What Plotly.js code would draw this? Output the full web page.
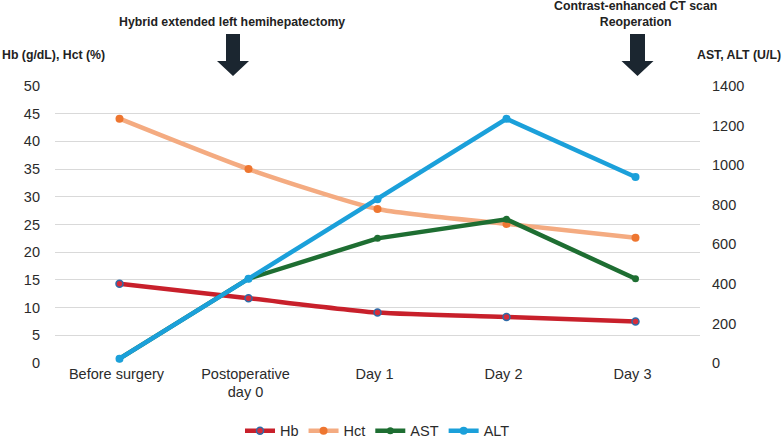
<!DOCTYPE html>
<html>
<head>
<meta charset="utf-8">
<script src="https://cdn.plot.ly/plotly-3.0.1.min.js"></script>
<style>html,body{margin:0;padding:0;background:#fff;}#chart{width:783px;height:440px;}</style>
</head>
<body>
<div id="chart"></div>
<script>
// ---- data ----
const categories = ["Before surgery", "Postoperative<br>day 0", "Day 1", "Day 2", "Day 3"];
const hb  = [14.3, 11.7, 9.1, 8.3, 7.5];
const hct = [44.1, 35.0, 27.8, 25.1, 22.6];
const ast = [22, 426, 630, 726, 426];
const alt = [22, 426, 827, 1234, 940];

// ---- layout helpers ----
const W = 783, H = 440;
const M = {l: 55, r: 83, t: 86, b: 77, autoexpand: false};
const pw = W - M.l - M.r, ph = H - M.t - M.b;
const px = x => (x - M.l) / pw;
const py = y => (H - M.b - y) / ph;

function arrowPath(cx, shaftHalf, headHalf, top, headBase, tip) {
  return "M" + px(cx - shaftHalf) + "," + py(top) +
         " L" + px(cx + shaftHalf) + "," + py(top) +
         " L" + px(cx + shaftHalf) + "," + py(headBase) +
         " L" + px(cx + headHalf) + "," + py(headBase) +
         " L" + px(cx) + "," + py(tip) +
         " L" + px(cx - headHalf) + "," + py(headBase) +
         " L" + px(cx - shaftHalf) + "," + py(headBase) + " Z";
}

const font = "Liberation Sans, Arial, sans-serif";
const lw = 4.5;

const traces = [
  {x: categories, y: hb, name: "Hb", type: "scatter", mode: "lines+markers",
   line: {color: "#C8202B", width: lw, shape: "spline", smoothing: 0.6},
   marker: {color: "#D62D3A", size: 7, line: {color: "#2E6BA8", width: 1.5}}},
  {x: categories, y: hct, name: "Hct", type: "scatter", mode: "lines+markers",
   line: {color: "#F4AB81", width: lw, shape: "spline", smoothing: 0.6},
   marker: {color: "#EE7630", size: 8}},
  {x: categories, y: ast, name: "AST", type: "scatter", mode: "lines+markers", yaxis: "y2",
   line: {color: "#1E6E32", width: lw},
   marker: {color: "#1E6E32", size: 7}},
  {x: categories, y: alt, name: "ALT", type: "scatter", mode: "lines+markers", yaxis: "y2",
   line: {color: "#1BA0DA", width: lw},
   marker: {color: "#1BA0DA", size: 8}}
];

const layout = {
  width: W, height: H,
  margin: M,
  paper_bgcolor: "#fff", plot_bgcolor: "#fff",
  font: {family: font, size: 14.5, color: "#2b2b2b"},
  showlegend: true,
  legend: {orientation: "h", x: 0.5, xanchor: "center", y: -0.245, yanchor: "middle",
           font: {size: 14.5, color: "#2b2b2b"}, itemwidth: 30, tracegroupgap: 0},
  xaxis: {type: "category", showgrid: false, zeroline: false, showline: false,
          ticks: "", tickfont: {size: 14.5}, range: [-0.5, 4.5], ticklabelshift: -3},
  yaxis: {range: [0, 50], dtick: 5, showgrid: true, gridcolor: "#d9d9d9", gridwidth: 1.2,
          zeroline: false, showline: false, ticks: "", tickfont: {size: 14.5}, ticklabelstandoff: 14},
  yaxis2: {range: [0, 1400], dtick: 200, overlaying: "y", side: "right", showgrid: false,
           zeroline: false, showline: false, ticks: "", tickfont: {size: 14.5}, ticklabelstandoff: 11},
  shapes: [
    {type: "path", xref: "paper", yref: "paper", path: arrowPath(233, 7, 16, 34, 61, 76),
     fillcolor: "#1B2630", line: {width: 0}},
    {type: "path", xref: "paper", yref: "paper", path: arrowPath(637.5, 7.5, 16, 34, 61, 76),
     fillcolor: "#1B2630", line: {width: 0}}
  ],
  annotations: [
    {xref: "paper", yref: "paper", x: px(232), y: py(22), text: "<b>Hybrid extended left hemihepatectomy</b>",
     showarrow: false, font: {size: 12.3, color: "#222"}, xanchor: "center", yanchor: "middle"},
    {xref: "paper", yref: "paper", x: px(635), y: py(14), text: "<b>Contrast-enhanced CT scan<br>Reoperation</b>",
     showarrow: false, font: {size: 12.3, color: "#222"}, xanchor: "center", yanchor: "middle", align: "center"},
    {xref: "paper", yref: "paper", x: px(0), y: py(55), text: "<b>Hb (g/dL), Hct (%)</b>",
     showarrow: false, font: {size: 12.3, color: "#222"}, xanchor: "left", yanchor: "middle"},
    {xref: "paper", yref: "paper", x: px(783), y: py(55), text: "<b>AST, ALT (U/L)</b>",
     showarrow: false, font: {size: 12.3, color: "#222"}, xanchor: "right", yanchor: "middle"}
  ]
};

Plotly.newPlot("chart", traces, layout, {displayModeBar: false, staticPlot: true});
</script>
</body>
</html>
